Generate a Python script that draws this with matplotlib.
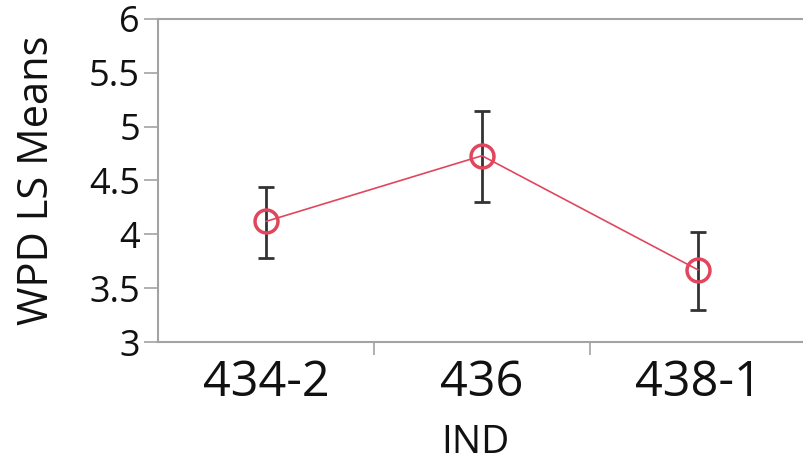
#!/usr/bin/env python3
"""WPD LS Means by IND with error bars."""
import matplotlib.pyplot as plt
import numpy as np

categories = ['434-2', '436', '438-1']
means = [4.12, 4.73, 3.67]
lower = [3.78, 4.30, 3.30]
upper = [4.44, 5.15, 4.02]
y_ticks = [3, 3.5, 4, 4.5, 5, 5.5, 6]
y_ticklabels = ['3', '3.5', '4', '4.5', '5', '5.5', '6']

line_color = '#e0475d'
bar_color = '#333333'
spine_color = '#a3a3a3'

plt.rcParams['font.family'] = ['Open Sans', 'DejaVu Sans']

fig = plt.figure(figsize=(8.04, 4.61), dpi=100)
ax = fig.add_axes([158 / 804, 1 - 342 / 461, 648 / 804, 323 / 461])

x = np.arange(len(categories))
means = np.array(means)
yerr = [means - np.array(lower), np.array(upper) - means]

ax.errorbar(x, means, yerr=yerr, fmt='none', ecolor=bar_color, elinewidth=2,
            capsize=6, capthick=2, zorder=2)
ax.plot(x, means, '-', color=line_color, lw=1.2, zorder=3)
ax.plot(x, means, 'o', mfc='none', mec=line_color, ms=16.5, mew=2.5, zorder=4)

ax.set_xlim(-0.5, 2.5)
ax.set_ylim(3, 6)
ax.set_yticks(y_ticks)
ax.set_yticklabels(y_ticklabels)
ax.set_xticks(x)
ax.set_xticklabels(categories, fontsize=35)
ax.set_xticks([0.5, 1.5], minor=True)
ax.tick_params(axis='x', which='major', length=0, pad=12, colors='#111111')
ax.tick_params(axis='x', which='minor', length=9, width=1.2, color=spine_color)
ax.tick_params(axis='y', length=10, width=1.2, color=spine_color, labelsize=26,
               labelcolor='#111111', pad=3)

for side in ['left', 'top', 'bottom', 'right']:
    ax.spines[side].set_color(spine_color)
    ax.spines[side].set_linewidth(1.5)

ax.set_xlabel('IND', fontsize=28, color='#111111')
ax.set_ylabel('WPD LS Means', fontsize=30, color='#111111')
ax.xaxis.set_label_coords((475 - 158) / 648, -(443 - 342) / 323)
ax.yaxis.set_label_coords(-(158 - 37) / 648, (342 - 180) / 323)
ax.xaxis.label.set_va('center')
ax.yaxis.label.set_va('center')

fig.savefig('out.png', dpi=100)
